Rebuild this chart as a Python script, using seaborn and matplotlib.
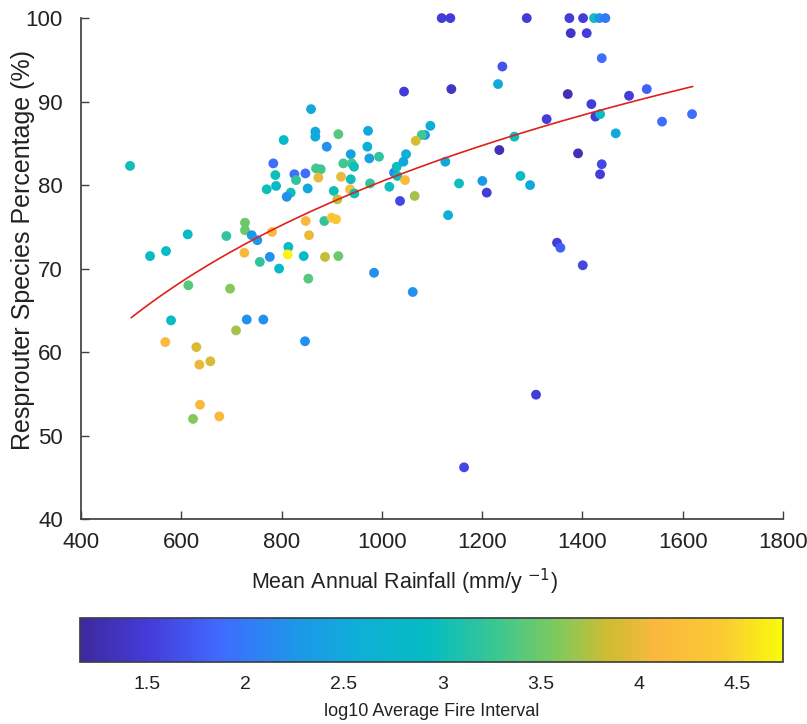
import numpy as np
import pandas as pd
import matplotlib
matplotlib.use("Agg")
import matplotlib.pyplot as plt
import seaborn as sns
from matplotlib.colors import LinearSegmentedColormap, Normalize
from matplotlib.cm import ScalarMappable

# %% data
rainfall = [
    497.7, 612.8, 569.5, 537.6, 689.9, 727.0, 727.0, 740.4, 751.6, 780.9,
    725.7, 858.7, 867.3, 867.3, 804.2, 783.5, 787.5, 789.0, 770.3, 825.5,
    847.4, 828.8, 818.2, 810.2, 852.0, 868.7, 878.0, 873.3, 848.1, 854.7,
    813.5, 812.2, 844.1, 776.5, 756.6, 795.0, 853.3, 614.0, 697.2, 579.5,
    730.5, 763.6, 709.1, 846.7, 568.1, 630.0, 636.0, 657.9, 637.3, 623.4,
    675.8, 1119.3, 1136.5, 1288.9, 1240.3, 1231.7, 1044.2, 1138.5, 1328.6, 1264.2,
    1234.2, 1126.5, 1153.9, 1200.4, 1209.1, 1276.3, 1295.5, 1132.0, 1096.7, 1086.0,
    1079.4, 1067.5, 913.2, 972.4, 971.0, 890.0, 937.9, 975.0, 994.3, 923.1,
    939.9, 944.5, 918.5, 937.9, 904.0, 936.5, 945.0, 911.2, 976.4, 1014.9,
    1024.2, 1029.6, 1030.8, 1048.2, 1042.9, 1046.2, 1036.2, 1065.3, 885.2, 900.0,
    908.6, 886.6, 913.2, 984.4, 1061.5, 1307.4, 1163.9, 1373.9, 1401.2, 1423.1,
    1433.7, 1445.7, 1376.6, 1408.5, 1438.5, 1370.7, 1417.8, 1492.9, 1528.2, 1425.7,
    1435.1, 1558.7, 1618.6, 1466.4, 1391.2, 1438.5, 1435.1, 1349.3, 1356.0, 1400.6,
]
resprouter = [
    82.3, 74.1, 72.1, 71.5, 73.9, 75.5, 74.6, 74.0, 73.4, 74.4,
    71.9, 89.1, 86.4, 85.8, 85.4, 82.6, 81.2, 79.9, 79.5, 81.3,
    81.4, 80.6, 79.1, 78.6, 79.6, 82.0, 81.9, 80.9, 75.7, 74.0,
    72.6, 71.7, 71.5, 71.4, 70.8, 70.0, 68.8, 68.0, 67.6, 63.8,
    63.9, 63.9, 62.6, 61.3, 61.2, 60.6, 58.5, 58.9, 53.7, 52.0,
    52.3, 100.0, 100.0, 100.0, 94.2, 92.1, 91.2, 91.5, 87.9, 85.8,
    84.2, 82.8, 80.2, 80.5, 79.1, 81.1, 80.0, 76.4, 87.1, 86.0,
    86.0, 85.3, 86.1, 86.5, 84.6, 84.6, 83.7, 83.2, 83.4, 82.6,
    82.6, 82.2, 81.0, 80.7, 79.3, 79.5, 79.0, 78.3, 80.2, 79.8,
    81.5, 82.2, 81.1, 83.7, 82.8, 80.6, 78.1, 78.7, 75.7, 76.1,
    75.9, 71.4, 71.5, 69.5, 67.2, 54.9, 46.2, 100.0, 100.0, 100.0,
    100.0, 100.0, 98.2, 98.2, 95.2, 90.9, 89.7, 90.7, 91.5, 88.2,
    88.5, 87.6, 88.5, 86.2, 83.8, 82.5, 81.3, 73.1, 72.5, 70.4,
]
fire_interval = [
    3.0, 2.9, 2.9, 2.9, 3.2, 3.5, 3.5, 2.3, 2.3, 4.1,
    4.1, 2.5, 2.5, 2.5, 2.9, 1.9, 3.0, 2.9, 3.0, 1.9,
    1.9, 3.2, 3.0, 2.2, 2.5, 3.3, 3.3, 4.0, 4.1, 4.0,
    2.9, 4.7, 2.9, 2.2, 3.2, 2.9, 3.4, 3.4, 3.6, 2.9,
    2.2, 2.2, 3.7, 2.2, 4.1, 3.9, 4.0, 3.9, 4.1, 3.6,
    4.1, 1.5, 1.5, 1.5, 1.7, 2.5, 1.5, 1.4, 1.5, 3.0,
    1.3, 2.5, 3.0, 2.3, 1.5, 2.9, 2.5, 2.6, 2.6, 2.3,
    3.3, 3.9, 3.4, 2.5, 2.6, 2.2, 2.4, 2.4, 3.2, 3.3,
    3.3, 3.0, 4.0, 3.0, 3.0, 4.2, 3.0, 3.8, 3.2, 3.0,
    2.1, 3.0, 3.0, 2.6, 2.5, 4.1, 1.6, 3.7, 3.2, 4.3,
    4.3, 3.8, 3.5, 2.2, 2.2, 1.5, 1.6, 1.5, 1.5, 3.0,
    2.2, 2.0, 1.4, 1.5, 1.9, 1.3, 1.5, 1.5, 1.8, 1.5,
    2.9, 1.9, 1.9, 2.5, 1.3, 1.6, 1.5, 1.5, 1.8, 1.6,
]

# log fit drawn in the original (y = a + b*ln x)
fit_intercept = -82.3
fit_slope = 23.56
fit_start, fit_end = 500, 1620

c_min, c_max = 1.16, 4.73
cbar_ticks = [1.5, 2, 2.5, 3, 3.5, 4, 4.5]
cbar_ticklabels = ["1.5", "2", "2.5", "3", "3.5", "4", "4.5"]

# parula-like colormap
parula = LinearSegmentedColormap.from_list("parula_like", [
    (0.00, (0.24, 0.16, 0.62)),
    (0.10, (0.27, 0.24, 0.86)),
    (0.20, (0.25, 0.42, 1.00)),
    (0.30, (0.12, 0.58, 0.92)),
    (0.40, (0.05, 0.69, 0.84)),
    (0.50, (0.02, 0.74, 0.76)),
    (0.60, (0.25, 0.78, 0.56)),
    (0.68, (0.50, 0.79, 0.36)),
    (0.75, (0.80, 0.74, 0.20)),
    (0.82, (0.98, 0.72, 0.24)),
    (0.92, (0.98, 0.80, 0.19)),
    (1.00, (0.98, 0.98, 0.05)),
])

sns.set_theme(style="ticks")
plt.rcParams["font.family"] = ["Liberation Sans", "DejaVu Sans"]
plt.rcParams.update({
    "axes.edgecolor": "#404040",
    "xtick.color": "#404040",
    "ytick.color": "#404040",
    "xtick.labelcolor": "#222222",
    "ytick.labelcolor": "#222222",
    "axes.labelcolor": "#222222",
})

df = pd.DataFrame({"rain": rainfall, "resp": resprouter, "fire": fire_interval})

fig = plt.figure(figsize=(8.07, 7.24), dpi=100)
ax = fig.add_axes([0.1004, 0.283, 0.8699, 0.692])

sns.scatterplot(data=df, x="rain", y="resp", hue="fire", palette=parula,
                hue_norm=(c_min, c_max), s=50, linewidth=0, legend=False,
                clip_on=False, ax=ax)

xf = np.linspace(fit_start, fit_end, 200)
ax.plot(xf, fit_intercept + fit_slope * np.log(xf), color="#e0201c", lw=1.2)

ax.set_xlim(400, 1800)
ax.set_ylim(40, 100)
ax.set_xticks(range(400, 1801, 200))
ax.set_yticks(range(40, 101, 10))
ax.tick_params(direction="in", length=6, width=1, labelsize=16)
ax.tick_params(axis="x", pad=9)
ax.tick_params(axis="y", pad=13)
ax.set_xlabel("Mean Annual Rainfall (mm/y $^{-1}$)", fontsize=15.5)
ax.set_ylabel("Resprouter Species Percentage (%)", fontsize=18)
ax.xaxis.set_label_coords(0.46, -0.095)
ax.yaxis.set_label_coords(-0.066, 0.538)
sns.despine(ax=ax)

cax = fig.add_axes([0.099, 0.0856, 0.871, 0.0608])
cb = fig.colorbar(ScalarMappable(norm=Normalize(c_min, c_max), cmap=parula),
                  cax=cax, orientation="horizontal")
cb.set_ticks(cbar_ticks)
cb.set_ticklabels(cbar_ticklabels)
cb.outline.set_edgecolor("#404040")
cb.ax.tick_params(direction="in", length=6, labelsize=14, pad=10)
cb.set_label("log10 Average Fire Interval", fontsize=13, labelpad=7)

fig.savefig("out.png", dpi=100)
